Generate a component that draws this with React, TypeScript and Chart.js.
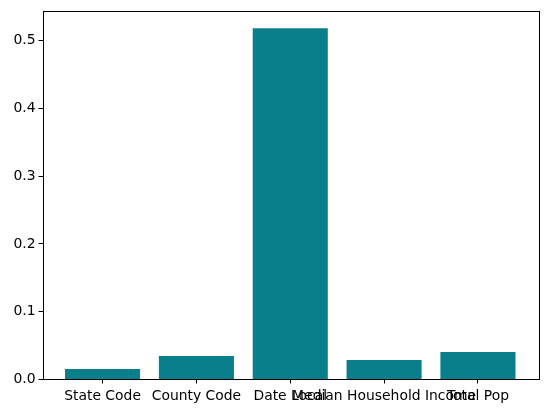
import React, { useEffect, useRef } from "react";
import { Chart, registerables } from "chart.js";

Chart.register(...registerables);

const categories = ["State Code", "County Code", "Date Local", "Median Household Income", "Total Pop"];
const importances = [0.0154, 0.0345, 0.518, 0.0287, 0.0404];
const yTicks = [0, 0.1, 0.2, 0.3, 0.4, 0.5];

const framePlugin = {
  id: "frame",
  afterDatasetsDraw(chart: any) {
    const { ctx, chartArea } = chart;
    ctx.save();
    ctx.strokeStyle = "#000";
    ctx.lineWidth = 1;
    ctx.strokeRect(
      Math.round(chartArea.left) + 0.5,
      Math.round(chartArea.top) + 0.5,
      Math.round(chartArea.right - chartArea.left),
      Math.round(chartArea.bottom - chartArea.top)
    );
    ctx.restore();
  },
};

export default function App() {
  const ref = useRef<HTMLCanvasElement>(null);
  useEffect(() => {
    const font = { family: "DejaVu Sans", size: 13.9 };
    const chart = new Chart(ref.current!, {
      type: "bar",
      data: {
        datasets: [
          {
            data: categories.map((c, i) => ({ x: i, y: importances[i] })),
            backgroundColor: "#087f8b",
            borderWidth: 0,
            categoryPercentage: 1,
            barPercentage: 0.8,
          },
        ],
      },
      options: {
        responsive: false,
        animation: false,
        devicePixelRatio: 1,
        layout: { padding: { left: 0, right: 9, top: 9.5, bottom: 0 } },
        plugins: { legend: { display: false }, tooltip: { enabled: false } },
        scales: {
          x: {
            type: "linear",
            offset: false,
            min: -0.64,
            max: 4.64,
            afterBuildTicks: (axis: any) => {
              axis.ticks = categories.map((c, i) => ({ value: i }));
            },
            afterFit: (axis: any) => {
              axis.height = 33.5;
            },
            ticks: {
              autoSkip: false,
              maxRotation: 0,
              minRotation: 0,
              color: "#000",
              font,
              padding: 5,
              callback: (v: any) => categories[v as number] ?? "",
            },
            grid: { offset: false, drawOnChartArea: false, drawTicks: true, tickLength: 4, color: "#000" },
            border: { display: false },
          },
          y: {
            min: 0,
            max: 0.543,
            afterBuildTicks: (axis: any) => {
              axis.ticks = yTicks.map((v) => ({ value: v }));
            },
            afterFit: (axis: any) => {
              axis.width = 42.5;
            },
            ticks: {
              color: "#000",
              font,
              padding: 3,
              callback: (v: any) => Number(v).toFixed(1),
            },
            grid: { drawOnChartArea: false, drawTicks: true, tickLength: 4, color: "#000" },
            border: { display: false },
          },
        },
      },
      plugins: [framePlugin],
    } as any);
    return () => chart.destroy();
  }, []);
  return (
    <div style={{ position: "absolute", left: 0, top: 0, width: 547, height: 413, background: "#fff" }}>
      <canvas ref={ref} width={547} height={413} />
    </div>
  );
}
